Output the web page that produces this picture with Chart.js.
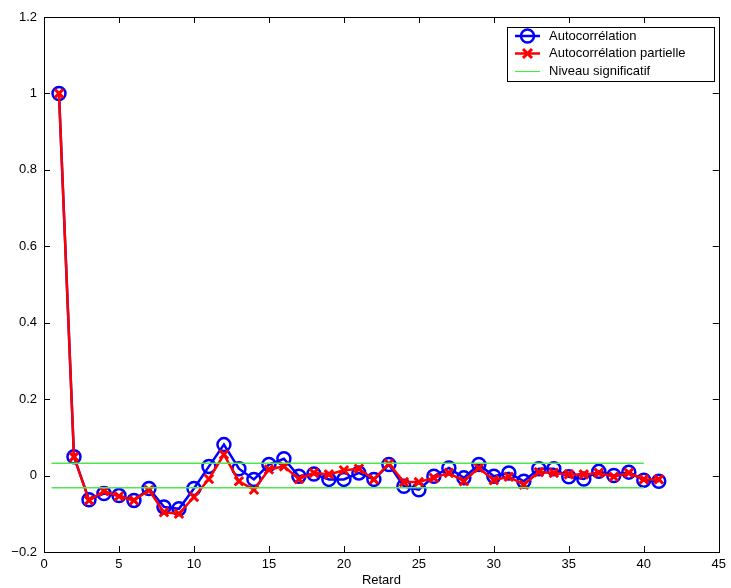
<!DOCTYPE html>
<html><head><meta charset="utf-8">
<script src="https://cdn.jsdelivr.net/npm/chart.js@4.4.1/dist/chart.umd.min.js"></script>
<style>html,body{margin:0;padding:0;background:#fff;}#wrap{width:731px;height:588px;}</style>
</head><body><div id="wrap"><canvas id="c" width="731" height="588"></canvas></div>
<script>
const lags = [1,2,3,4,5,6,7,8,9,10,11,12,13,14,15,16,17,18,19,20,21,22,23,24,25,26,27,28,29,30,31,32,33,34,35,36,37,38,39,40,41];
const acf = [1.000,0.049,-0.063,-0.047,-0.052,-0.065,-0.034,-0.082,-0.087,-0.034,0.024,0.081,0.018,-0.010,0.029,0.044,-0.002,0.004,-0.010,-0.010,0.007,-0.010,0.029,-0.028,-0.037,-0.002,0.020,-0.006,0.029,-0.002,0.007,-0.015,0.018,0.018,-0.003,-0.009,0.011,0.000,0.009,-0.012,-0.015];
const pacf = [1.000,0.049,-0.065,-0.041,-0.054,-0.065,-0.038,-0.096,-0.100,-0.056,-0.009,0.055,-0.015,-0.037,0.016,0.024,-0.009,0.007,0.003,0.014,0.018,-0.010,0.031,-0.017,-0.017,-0.006,0.007,-0.015,0.020,-0.012,-0.003,-0.024,0.009,0.007,0.003,0.003,0.007,-0.003,0.007,-0.010,-0.010];
const sigX = [0.5, 40];
const sigLevel = 0.032;
const seriesNames = ['Autocorrélation','Autocorrélation partielle','Niveau significatif'];
const xTitle = 'Retard';
const xTicks = [0,5,10,15,20,25,30,35,40,45];
const yTicks = [-0.2,0,0.2,0.4,0.6,0.8,1,1.2];

const FONT = 'Liberation Sans, Arial, Helvetica, sans-serif';
const BLUE = '#0000ff', RED = '#ff0000', GREEN = '#50e650';

function fmtY(v){
  const r = Math.round(v*10)/10;
  if (Math.abs(r) < 1e-9) return '0';
  const s = String(Math.abs(r));
  return (r < 0 ? '\u2212' : '') + s;
}

const frame = {
  id: 'frame',
  afterDatasetsDraw(chart){
    const {ctx, chartArea: a, scales} = chart;
    ctx.save();
    ctx.strokeStyle = '#000'; ctx.lineWidth = 1;
    ctx.strokeRect(Math.round(a.left)+0.5, Math.round(a.top)+0.5, Math.round(a.right-a.left), Math.round(a.bottom-a.top));
    const L = 6;
    ctx.beginPath();
    xTicks.forEach(v=>{
      const x = Math.round(scales.x.getPixelForValue(v))+0.5;
      ctx.moveTo(x, a.bottom); ctx.lineTo(x, a.bottom-L);
      ctx.moveTo(x, a.top); ctx.lineTo(x, a.top+L);
    });
    yTicks.forEach(v=>{
      const y = Math.round(scales.y.getPixelForValue(v))+0.5;
      ctx.moveTo(a.left, y); ctx.lineTo(a.left+L, y);
      ctx.moveTo(a.right, y); ctx.lineTo(a.right-L, y);
    });
    ctx.stroke();

    // legend box
    const bx = 507, by = 27, bw = 207, bh = 54;
    ctx.fillStyle = '#fff';
    ctx.fillRect(bx, by, bw, bh);
    ctx.strokeRect(bx+0.5, by+0.5, bw, bh);
    const rows = [36, 53.5, 71];
    const x1 = 515, x2 = 540, xm = 527.5;
    ctx.font = '13px ' + FONT;
    ctx.textBaseline = 'middle';
    ctx.textAlign = 'left';
    ctx.strokeStyle = BLUE; ctx.lineWidth = 2.5;
    ctx.beginPath(); ctx.moveTo(x1, rows[0]); ctx.lineTo(x2, rows[0]); ctx.stroke();
    ctx.beginPath(); ctx.arc(xm, rows[0], 6.5, 0, Math.PI*2); ctx.stroke();
    ctx.strokeStyle = RED; ctx.lineWidth = 2.5;
    ctx.beginPath(); ctx.moveTo(x1, rows[1]); ctx.lineTo(x2, rows[1]); ctx.stroke();
    ctx.lineWidth = 3;
    const d = 4.5;
    ctx.beginPath();
    ctx.moveTo(xm-d, rows[1]-d); ctx.lineTo(xm+d, rows[1]+d);
    ctx.moveTo(xm-d, rows[1]+d); ctx.lineTo(xm+d, rows[1]-d);
    ctx.stroke();
    ctx.strokeStyle = GREEN; ctx.lineWidth = 1.2;
    ctx.beginPath(); ctx.moveTo(x1, rows[2]+0.5); ctx.lineTo(x2, rows[2]+0.5); ctx.stroke();
    ctx.fillStyle = '#000';
    seriesNames.forEach((t,i)=>ctx.fillText(t, 549, rows[i]));
    ctx.restore();
  }
};

new Chart(document.getElementById('c'), {
  type: 'line',
  data: {
    datasets: [
      { label: seriesNames[0], order: 4, data: lags.map((l,i)=>({x:l, y:acf[i]})),
        borderColor: BLUE, borderWidth: 2.5, pointStyle: 'circle', pointRadius: 6.5,
        pointBorderWidth: 2.5, pointBorderColor: BLUE, pointBackgroundColor: 'rgba(0,0,0,0)', tension: 0 },
      { label: seriesNames[1], order: 3, data: lags.map((l,i)=>({x:l, y:pacf[i]})),
        borderColor: RED, borderWidth: 2.5, pointStyle: 'crossRot', pointRadius: 6,
        pointBorderWidth: 3, pointBorderColor: RED, pointBackgroundColor: RED, tension: 0 },
      { label: seriesNames[2], order: 2, data: sigX.map(x=>({x, y: sigLevel})),
        borderColor: GREEN, borderWidth: 1.5, pointRadius: 0 },
      { label: seriesNames[2] + ' (bas)', order: 1, data: sigX.map(x=>({x, y: -sigLevel})),
        borderColor: GREEN, borderWidth: 1.5, pointRadius: 0 }
    ]
  },
  options: {
    responsive: false, animation: false,
    layout: { padding: { top: 17, right: 11, left: 0, bottom: 0 } },
    plugins: { legend: { display: false }, tooltip: { enabled: false } },
    scales: {
      x: { type: 'linear', min: 0, max: 45,
        afterBuildTicks(s){ s.ticks = xTicks.map(v=>({value:v})); },
        afterFit(s){ s.height = 36; },
        grid: { display: false, drawTicks: false },
        border: { display: false },
        ticks: { color: '#000', font: { family: FONT, size: 13 }, padding: 5, maxRotation: 0, autoSkip: false },
        title: { display: true, text: xTitle, color: '#000', font: { family: FONT, size: 13 }, padding: { top: 0, bottom: 0 } }
      },
      y: { type: 'linear', min: -0.2, max: 1.2,
        afterBuildTicks(s){ s.ticks = yTicks.map(v=>({value:v})); },
        afterFit(s){ s.width = 44; },
        grid: { display: false, drawTicks: false },
        border: { display: false },
        ticks: { color: '#000', font: { family: FONT, size: 13 }, padding: 7, autoSkip: false, callback: v => fmtY(v) }
      }
    }
  },
  plugins: [frame]
});
</script></body></html>
